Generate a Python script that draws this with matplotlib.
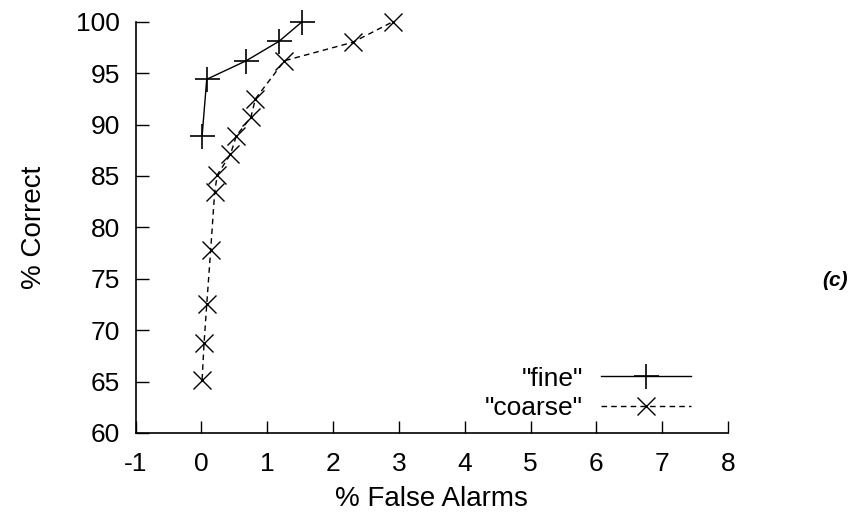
import matplotlib
matplotlib.use('Agg')
import matplotlib.pyplot as plt

plt.rcParams['font.family'] = ['Liberation Sans', 'DejaVu Sans']
plt.rcParams['axes.unicode_minus'] = False

# fine
fine_x = [0.01, 0.08, 0.68, 1.18, 1.53]
fine_y = [88.9, 94.4, 96.2, 98.1, 100.0]

# coarse
coarse_x = [0.01, 0.04, 0.08, 0.14, 0.20, 0.24, 0.44, 0.53, 0.75, 0.82, 1.26, 2.30, 2.91]
coarse_y = [65.2, 68.8, 72.5, 77.8, 83.4, 85.1, 87.1, 88.9, 90.7, 92.5, 96.2, 98.0, 100.0]

x_ticks = list(range(-1, 9))
y_ticks = list(range(60, 101, 5))

fig = plt.figure(figsize=(8.64, 5.29), dpi=100)
ax = fig.add_axes([0.157, 0.1815, 0.6856, 0.7775])

ax.plot(fine_x, fine_y, color='black', lw=1.0, marker='+', ms=18, mew=1.2,
        label='"fine"', clip_on=False)
ax.plot(coarse_x, coarse_y, color='black', lw=1.0, ls=(0, (4, 3)), marker='x',
        ms=13, mew=1.0, label='"coarse"', clip_on=False)

ax.set_xlim(-1, 8)
ax.set_ylim(60, 100)
ax.set_xticks(x_ticks)
ax.set_yticks(y_ticks)
ax.tick_params(direction='in', length=9, width=1.0, labelsize=19)
ax.tick_params(axis='x', pad=14)
ax.tick_params(axis='y', pad=11)
ax.spines['top'].set_visible(False)
ax.spines['right'].set_visible(False)
for s in ['left', 'bottom']:
    ax.spines[s].set_linewidth(1.2)

ax.set_xlabel('% False Alarms', fontsize=20, labelpad=7)
ax.set_ylabel('% Correct', fontsize=20, labelpad=21)

leg = ax.legend(loc='lower right', bbox_to_anchor=(0.96, 0.0), frameon=False,
                fontsize=19, markerfirst=False, handlelength=3.4,
                handletextpad=0.7, labelspacing=0.2, borderpad=0)

fig.text(0.967, 0.47, '(c)', fontsize=15, fontweight='bold', style='italic',
         ha='center', va='center')

fig.savefig('out.png', dpi=100)
